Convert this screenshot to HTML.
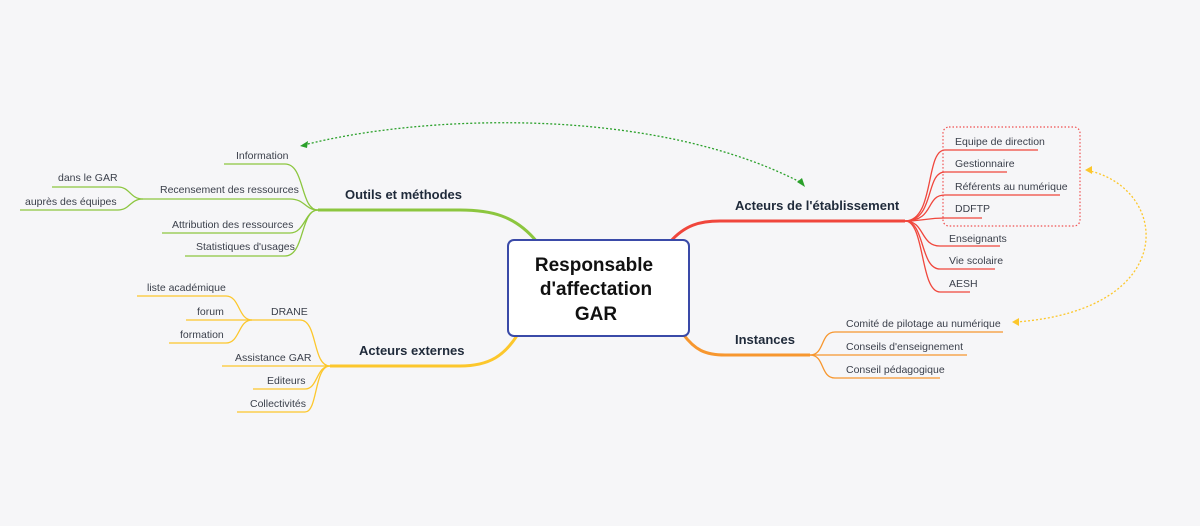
<!DOCTYPE html>
<html><head><meta charset="utf-8"><style>
html,body{margin:0;padding:0;background:#f6f6f8;}
svg{display:block;}
text{font-family:"Liberation Sans",sans-serif;}
.c{font-size:10.5px;fill:#3a3f4a;}
.h{font-size:13px;font-weight:bold;fill:#1f2a3a;}
.g{stroke:#8cc63f;fill:none;stroke-width:1.3;}
.y{stroke:#fcc72c;fill:none;stroke-width:1.3;}
.r{stroke:#f0463c;fill:none;stroke-width:1.3;}
.o{stroke:#f7972f;fill:none;stroke-width:1.3;}
</style></head><body>
<svg width="1200" height="526" viewBox="0 0 1200 526" xmlns="http://www.w3.org/2000/svg">
<!-- main branches -->
<path d="M537 242 C515 215 490 210 460 210 L318 210" stroke="#8cc63f" stroke-width="3" fill="none"/>
<path d="M518 334 C505 355 490 366 460 366 L330 366" stroke="#fcc72c" stroke-width="3" fill="none"/>
<path d="M670 242 C685 225 700 221 720 221 L905 221" stroke="#f0463c" stroke-width="3" fill="none"/>
<path d="M683 334 C695 350 705 355 725 355 L810 355" stroke="#f7972f" stroke-width="3" fill="none"/>
<!-- green -->
<path class="g" d="M318 210 C300 210 305 164 285 164 L224 164"/>
<path class="g" d="M318 210 C305 210 305 199 290 199 L143 199"/>
<path class="g" d="M318 210 C305 210 305 233 290 233 L162 233"/>
<path class="g" d="M318 210 C300 210 305 256 285 256 L185 256"/>
<path class="g" d="M143 199 C130 199 130 187 118 187 L52 187"/>
<path class="g" d="M143 199 C130 199 130 210 118 210 L20 210"/>
<text class="c" x="236" y="159">Information</text>
<text class="c" x="160" y="193">Recensement des ressources</text>
<text class="c" x="172" y="228">Attribution des ressources</text>
<text class="c" x="196" y="250">Statistiques d'usages</text>
<text class="c" x="58" y="181">dans le GAR</text>
<text class="c" x="25" y="205">auprès des équipes</text>
<text class="h" x="345" y="199">Outils et méthodes</text>
<!-- yellow -->
<path class="y" d="M330 366 C312 366 318 320 300 320 L252 320"/>
<path class="y" d="M330 366 L222 366"/>
<path class="y" d="M330 366 C316 366 318 389 305 389 L253 389"/>
<path class="y" d="M330 366 C314 366 318 412 305 412 L237 412"/>
<path class="y" d="M252 320 C238 320 240 296 226 296 L137 296"/>
<path class="y" d="M252 320 L186 320"/>
<path class="y" d="M252 320 C238 320 240 343 226 343 L169 343"/>
<text class="c" x="271" y="315">DRANE</text>
<text class="c" x="235" y="361">Assistance GAR</text>
<text class="c" x="267" y="384">Editeurs</text>
<text class="c" x="250" y="407">Collectivités</text>
<text class="c" x="147" y="291">liste académique</text>
<text class="c" x="197" y="315">forum</text>
<text class="c" x="180" y="338">formation</text>
<text class="h" x="359" y="355">Acteurs externes</text>
<!-- red -->
<path class="r" d="M905 221 C935 221 925 150 945 150 L1038 150"/>
<path class="r" d="M905 221 C935 221 925 172 945 172 L1007 172"/>
<path class="r" d="M905 221 C935 221 925 195 945 195 L1060 195"/>
<path class="r" d="M905 221 C925 221 925 218 945 218 L982 218"/>
<path class="r" d="M905 221 C925 221 920 246 940 246 L1000 246"/>
<path class="r" d="M905 221 C925 221 920 269 940 269 L995 269"/>
<path class="r" d="M905 221 C925 221 920 292 940 292 L970 292"/>
<rect x="943" y="127" width="137" height="99" rx="6" fill="none" stroke="#f05050" stroke-width="1.2" stroke-dasharray="1.5 2"/>
<text class="c" x="955" y="145">Equipe de direction</text>
<text class="c" x="955" y="167">Gestionnaire</text>
<text class="c" x="955" y="190">Référents au numérique</text>
<text class="c" x="955" y="212">DDFTP</text>
<text class="c" x="949" y="242">Enseignants</text>
<text class="c" x="949" y="264">Vie scolaire</text>
<text class="c" x="949" y="287">AESH</text>
<text class="h" x="735" y="210">Acteurs de l'établissement</text>
<!-- orange -->
<path class="o" d="M810 355 C825 355 820 332 835 332 L1003 332"/>
<path class="o" d="M810 355 L967 355"/>
<path class="o" d="M810 355 C825 355 820 378 835 378 L940 378"/>
<text class="c" x="846" y="327">Comité de pilotage au numérique</text>
<text class="c" x="846" y="350">Conseils d'enseignement</text>
<text class="c" x="846" y="373">Conseil pédagogique</text>
<text class="h" x="735" y="344">Instances</text>
<!-- dotted relations -->
<path d="M304 145 C420 115 650 105 800 182" fill="none" stroke="#2aa02a" stroke-width="1.3" stroke-dasharray="2 2"/>
<polygon points="300,146 308,141 307,148" fill="#2aa02a"/>
<polygon points="805,187 797,182 802,178" fill="#2aa02a"/>
<path d="M1016 322 C1180 310 1170 190 1090 171" fill="none" stroke="#fcc72c" stroke-width="1.3" stroke-dasharray="2 2"/>
<polygon points="1012,322 1019,318 1019,326" fill="#fcc72c"/>
<polygon points="1085,170 1092,166 1092,174" fill="#fcc72c"/>
<!-- center -->
<rect x="508" y="240" width="181" height="96" rx="6" fill="#fff" stroke="#3a4aa8" stroke-width="2"/>
<text x="594" y="271" text-anchor="middle" style="font-size:19px;font-weight:bold;fill:#111">Responsable</text>
<text x="596" y="295" text-anchor="middle" style="font-size:19px;font-weight:bold;fill:#111">d'affectation</text>
<text x="596" y="320" text-anchor="middle" style="font-size:19px;font-weight:bold;fill:#111">GAR</text>
</svg>
</body></html>
